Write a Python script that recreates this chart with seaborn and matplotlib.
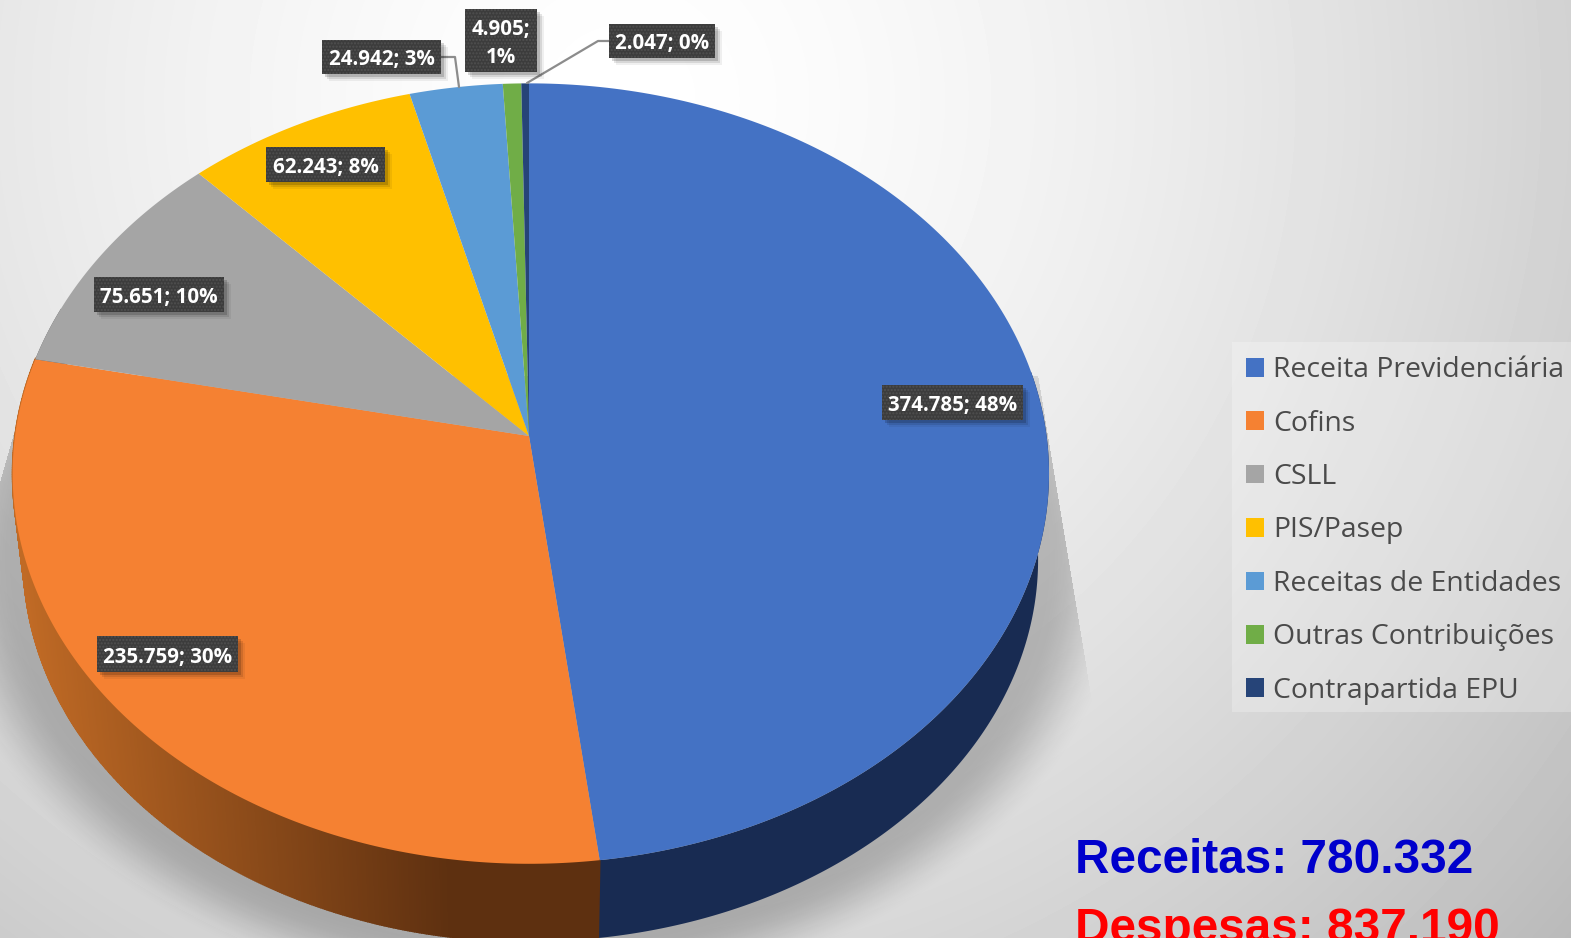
import numpy as np
import matplotlib
matplotlib.use('Agg')
import matplotlib.pyplot as plt
from matplotlib.patches import Patch, Rectangle
import seaborn as sns

# dados
categorias = ['Receita Previdenciária', 'Cofins', 'CSLL', 'PIS/Pasep',
              'Receitas de Entidades', 'Outras Contribuições', 'Contrapartida EPU']
valores = [374785, 235759, 75651, 62243, 24942, 4905, 2047]
cores = ['#4472C4', '#F58132', '#A5A5A5', '#FFC000', '#5B9BD5', '#70AD47', '#264478']
cores_lado = ['#182B52', '#C06A25', '#5A5A5A', '#8A6A00', '#2F5F8A', '#3F6A28', '#14264A']
total_receitas = 'Receitas: 780.332'
total_despesas = 'Despesas: 837.190'

# posicao dos rotulos em pixels (esquerda, topo, largura, altura)
caixas = [(882, 385, 141, 35), (97, 636, 141, 36), (94, 277, 130, 35), (266, 147, 119, 35),
          (322, 40, 119, 34), (465, 9, 72, 63), (609, 24, 106, 34)]

LARG, ALT = 1571, 938
CX, CY = 529, 436
A_DIR, A_ESQ, S, K = 517.6, 514, 386.6, 0.0963
# elipse de baixo da pizza
ESCALA, CY_TOPO, CY_BAIXO = 0.979, 472, 558

sns.set_theme(style='white')
plt.rcParams['font.family'] = ['Open Sans', 'DejaVu Sans']
paleta = sns.color_palette(cores)


def projeta(ang):
    # angulo em graus a partir do topo, sentido horario -> perspectiva
    u = np.sin(np.radians(ang))
    v = np.cos(np.radians(ang))
    w = 1 + K * v
    a = np.where(u < 0, A_ESQ, A_DIR)
    return CX + a * u / w, CY - S * v / w


def embaixo(x, y):
    return CX + ESCALA * (x - CX), CY_BAIXO + ESCALA * (y - CY_TOPO)


fig = plt.figure(figsize=(LARG / 100, ALT / 100), dpi=100)
ax = fig.add_axes([0, 0, 1, 1])
ax.set_xlim(0, LARG)
ax.set_ylim(ALT, 0)
ax.axis('off')

# fundo em gradiente
yy, xx = np.mgrid[0:ALT, 0:LARG]
dist = np.sqrt((xx - 620) ** 2 + (yy - 100) ** 2)
fundo = 1 - 0.25 * (dist / 1200) ** 1.5
ax.imshow(fundo, cmap='gray', vmin=0, vmax=1, extent=(0, LARG, ALT, 0), aspect='auto', zorder=0)

# sombra atras da pizza
d = np.sqrt(((xx - 529.5) / 508) ** 2 + ((yy - CY_BAIXO) / 381) ** 2)
t = np.clip((d - 1.02) / 0.16, 0, 1)
alfa = 0.22 * (1 - t * t * (3 - 2 * t))
lim_dir = 1045 + (yy - 420) * 42 / 253
alfa = alfa * (xx < lim_dir) * (yy > 375)
lim_esq = 40 - (yy - 340) * 40 / 140
alfa = alfa * (xx > lim_esq)
sombra = np.zeros((ALT, LARG, 4))
sombra[..., 3] = alfa
ax.imshow(sombra, extent=(0, LARG, ALT, 0), aspect='auto', zorder=1)

fracao = np.cumsum([0] + valores) / sum(valores) * 360

# lateral da pizza
for i in range(len(valores)):
    angs = np.arange(fracao[i], fracao[i + 1] + 0.25, 0.25)
    angs = angs[(angs > 80) & (angs < 290)]
    if len(angs) < 2:
        continue
    if categorias[i] == 'Cofins':
        # degrade escurecendo para a direita
        for a0, a1 in zip(angs[:-1], angs[1:]):
            x0, y0 = projeta(a0)
            x1, y1 = projeta(a1)
            bx0, by0 = embaixo(x0, y0)
            bx1, by1 = embaixo(x1, y1)
            f = np.clip((x0 - 20) / 430, 0, 1)
            cor = tuple(np.array(matplotlib.colors.to_rgb('#C06A25')) * (1 - f)
                        + np.array(matplotlib.colors.to_rgb('#5E3010')) * f)
            ax.fill([x0, x1, bx1, bx0], [y0, y1, by1, by0], color=cor, lw=1.2, zorder=2)
    else:
        xs, ys = projeta(angs)
        bxs, bys = embaixo(xs, ys)
        ax.fill(np.r_[xs, bxs[::-1]], np.r_[ys, bys[::-1]], color=cores_lado[i], lw=0, zorder=2)

# topo da pizza
for i in range(len(valores)):
    angs = np.linspace(fracao[i], fracao[i + 1], 200)
    xs, ys = projeta(angs)
    ax.fill(np.r_[CX, xs], np.r_[CY, ys], color=paleta[i], lw=0, zorder=3)

# linhas de chamada
ax.plot([441, 455, 459], [57, 57, 87], color='#8c8c8c', lw=1.6, zorder=4)
ax.plot([609, 598, 527], [41, 41, 83], color='#8c8c8c', lw=1.6, zorder=4)

# rotulos
for i, (x, y, w, h) in enumerate(caixas):
    for off, al in [(7, 0.06), (5, 0.1), (3, 0.16)]:
        ax.add_patch(Rectangle((x + off, y + off), w, h, fc='black', alpha=al, lw=0, zorder=5))
    ax.add_patch(Rectangle((x, y), w, h, fc='#3c3c3c', ec='#505050', hatch='.....', lw=0, zorder=6))
    numero = f'{valores[i]:,}'.replace(',', '.')
    pct = round(valores[i] / sum(valores) * 100)
    sep = '\n' if w < 80 else ' '
    ax.text(x + w / 2, y + h / 2 + 3, f'{numero};{sep}{pct}%', color='white', fontsize=14.8,
            fontweight='bold', ha='center', va='center', zorder=7, linespacing=1.38)

# legenda
ax.add_patch(Rectangle((1232, 342), 339, 370, fc='white', alpha=0.25, lw=0, zorder=7))
handles = [Patch(fc=c, lw=0) for c in paleta]
leg = ax.legend(handles, categorias, loc='upper left', bbox_to_anchor=(1232, 342),
                bbox_transform=ax.transData, borderaxespad=0, borderpad=0.5, fontsize=20.45,
                labelspacing=0.895, handlelength=0.64, handleheight=0.64, handletextpad=0.3,
                frameon=False, labelcolor='#4a4a4a')
leg.set_zorder(8)

# totais
ax.text(1075, 873, total_receitas, color='#0000CC', fontsize=34.4, fontweight='bold',
        family='Liberation Sans', va='baseline', zorder=9)
ax.text(1075, 942, total_despesas, color='#FF0000', fontsize=34.4, fontweight='bold',
        family='Liberation Sans', va='baseline', zorder=9)

fig.savefig('out.png', dpi=100)
